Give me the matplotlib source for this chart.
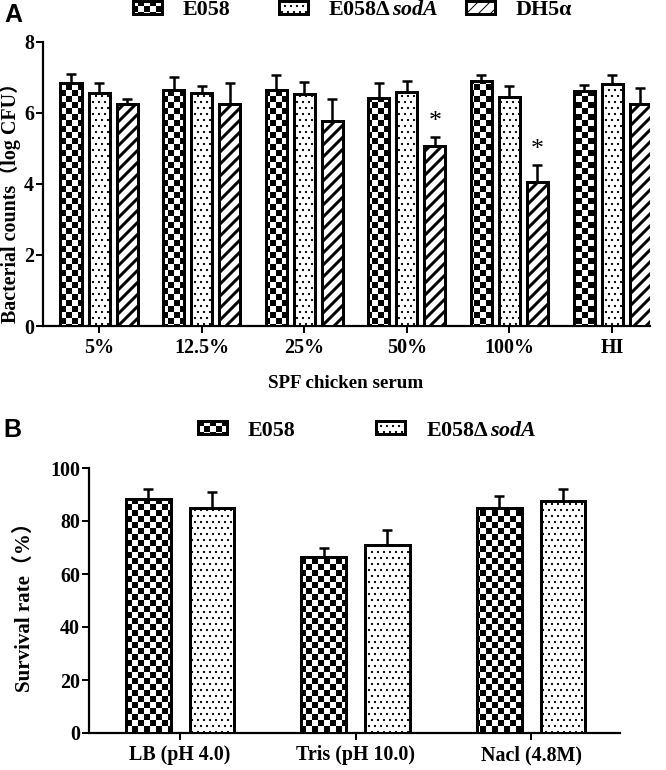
import matplotlib

matplotlib.use("Agg")
import matplotlib.pyplot as plt
import numpy as np
from matplotlib import hatch as mhatch
from matplotlib.path import Path

# ---- data -------------------------------------------------------------
serum_groups = ["5%", "12.5%", "25%", "50%", "100%", "HI"]
e058_serum = [6.83, 6.63, 6.63, 6.41, 6.89, 6.60]
e058_serum_err = [0.25, 0.37, 0.42, 0.42, 0.18, 0.17]
sod_serum = [6.57, 6.57, 6.54, 6.58, 6.44, 6.80]
sod_serum_err = [0.26, 0.17, 0.34, 0.31, 0.30, 0.25]
dh5a_serum = [6.26, 6.26, 5.76, 5.06, 4.04, 6.26]
dh5a_serum_err = [0.14, 0.57, 0.64, 0.26, 0.50, 0.44]
dh5a_signif = [False, False, False, True, True, False]

stress_groups = ["LB (pH 4.0)", "Tris (pH 10.0)", "Nacl (4.8M)"]
e058_stress = [88.4, 66.3, 85.0]
e058_stress_err = [3.8, 3.7, 4.4]
sod_stress = [85.0, 71.1, 87.5]
sod_stress_err = [5.9, 5.4, 4.7]

W, H, DPI = 666, 770, 72


# matplotlib has no checkerboard hatch: swap the "*" pattern for one
class CheckerHatch(mhatch.HatchPatternBase):
    filled = True

    def __init__(self, hatch, density):
        self.num_cells = int(hatch.count("*") * density * 2)
        self.num_vertices = (self.num_cells ** 2 // 2) * 5

    def set_vertices_and_codes(self, vertices, codes):
        step = 1.0 / self.num_cells
        inset = 0.5 / DPI  # the hatch stroke grows every square a little
        k = 0
        for i in range(self.num_cells):
            for j in range(self.num_cells):
                if (i + j) % 2:
                    continue
                x0, y0 = i * step + inset, j * step + inset
                x1, y1 = (i + 1) * step - inset, (j + 1) * step - inset
                vertices[k:k + 5] = [(x0, y0), (x1, y0), (x1, y1), (x0, y1), (x0, y0)]
                codes[k:k + 5] = [Path.MOVETO, Path.LINETO, Path.LINETO,
                                  Path.LINETO, Path.CLOSEPOLY]
                k += 5


mhatch._hatch_types = [CheckerHatch if t is mhatch.Stars else t
                       for t in mhatch._hatch_types]

plt.rcParams["font.family"] = ["Liberation Serif", "Noto Sans CJK SC"]
plt.rcParams["font.weight"] = "bold"
plt.rcParams["axes.labelweight"] = "bold"
plt.rcParams["mathtext.fontset"] = "custom"
plt.rcParams["mathtext.it"] = "Liberation Serif:italic:bold"
plt.rcParams["mathtext.rm"] = "Liberation Serif:bold"
plt.rcParams["hatch.linewidth"] = 1.0

SOD_LABEL = "E058Δ$\\,\\mathit{sodA}$"
BAR_KW = dict(edgecolor="black", linewidth=3, facecolor="white")
ERR_KW = dict(fmt="none", ecolor="black", elinewidth=2.5, capsize=5, capthick=2.5)
LEG_KW = dict(loc="center left", frameon=False, fontsize=22, handlelength=1.3,
              handleheight=0.55, handletextpad=0.95, borderpad=0, borderaxespad=0)


def fx(px):
    return px / W


def fy(py):
    return 1 - py / H


def style_axes(ax):
    for side in ("top", "right"):
        ax.spines[side].set_visible(False)
    for side in ("left", "bottom"):
        ax.spines[side].set_linewidth(2.2)
    ax.tick_params(direction="out", length=7, width=2, labelsize=20, pad=2)
    ax.tick_params(axis="x", pad=5)


def bars(ax, x, vals, errs, hatch, label, width, hatch_lw=None):
    b = ax.bar(x, vals, width, hatch=hatch, label=label, zorder=3, **BAR_KW)
    if hatch_lw is not None:
        for p in b:
            if hasattr(p, "set_hatch_linewidth"):
                p.set_hatch_linewidth(hatch_lw)
    ax.errorbar(x, vals, yerr=[np.zeros(len(vals)), errs], zorder=2, **ERR_KW)
    return b


def legend_row(handles, lefts, y):
    # one small legend per entry so each sits where the original puts it
    for h, left in zip(handles, lefts):
        fig.legend(handles=[h], bbox_to_anchor=(fx(left), fy(y)), **LEG_KW)


fig = plt.figure(figsize=(W / DPI, H / DPI), dpi=DPI)

# ---- panel A ----------------------------------------------------------
axA = fig.add_axes([fx(43), fy(326), fx(650) - fx(43), fy(41.7) - fy(326)])
xa = np.arange(len(serum_groups))
step_a, width_a = 0.273, 0.205
hA1 = bars(axA, xa - step_a, e058_serum, e058_serum_err, "*", "E058", width_a)
hA2 = bars(axA, xa, sod_serum, sod_serum_err, "..", SOD_LABEL, width_a)
hA3 = bars(axA, xa + step_a, dh5a_serum, dh5a_serum_err, "//", "DH5α", width_a, hatch_lw=3)
for xi, v, e, s in zip(xa + step_a, dh5a_serum, dh5a_serum_err, dh5a_signif):
    if s:
        axA.annotate("*", (xi, v + e), xytext=(0, 15), textcoords="offset points",
                     ha="center", va="center", fontsize=26, fontweight="normal")
axA.set_xlim(-0.546, 5.37)
axA.set_ylim(0, 8)
axA.set_yticks([0, 2, 4, 6, 8])
axA.set_xticks(xa, serum_groups)
style_axes(axA)
fig.text(fx(10), fy(198), "Bacterial counts（log CFU）", rotation=90,
         ha="center", va="center", fontsize=20)
fig.text(fx(346), fy(383), "SPF chicken serum", ha="center", va="center", fontsize=19)
legend_row([hA1, hA2, hA3], [133, 279, 466], 10)
fig.text(fx(4), fy(15), "A", family="Liberation Sans", fontsize=25,
         ha="left", va="center")

# ---- panel B ----------------------------------------------------------
axB = fig.add_axes([fx(89), fy(733), fx(620) - fx(89), fy(468) - fy(733)])
xb = np.arange(len(stress_groups))
step_b, width_b = 0.182, 0.256
hB1 = bars(axB, xb - step_b, e058_stress, e058_stress_err, "*", "E058", width_b)
hB2 = bars(axB, xb + step_b, sod_stress, sod_stress_err, "..", SOD_LABEL, width_b)
axB.set_xlim(-0.519, 2.507)
axB.set_ylim(0, 100)
axB.set_yticks(np.arange(0, 101, 20))
axB.set_xticks(xb, stress_groups)
style_axes(axB)
fig.text(fx(25), fy(602), "Survival rate（%）", rotation=90,
         ha="center", va="center", fontsize=21)
legend_row([hB1, hB2], [198, 376], 430.5)
fig.text(fx(3), fy(430), "B", family="Liberation Sans", fontsize=25,
         ha="left", va="center")

fig.savefig("out.png", dpi=DPI)
